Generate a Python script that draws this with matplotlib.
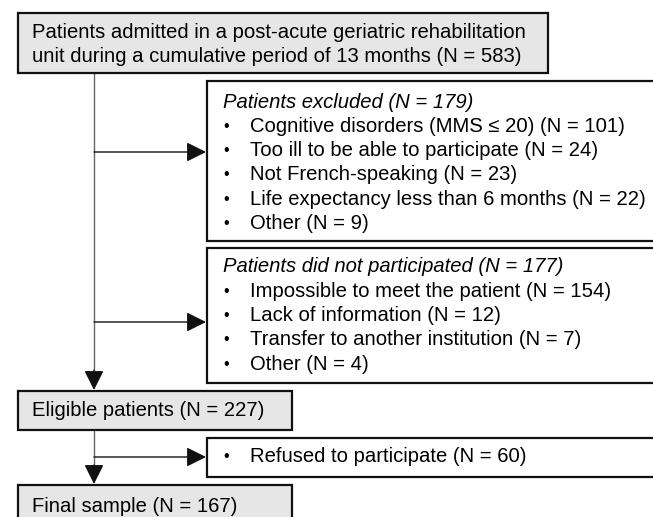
import matplotlib
matplotlib.use("Agg")
import matplotlib.pyplot as plt
from matplotlib.patches import Rectangle, FancyArrowPatch

plt.rcParams['font.family'] = ['Liberation Sans', 'DejaVu Sans']

top_lines = ["Patients admitted in a post-acute geriatric rehabilitation",
             "unit during a cumulative period of 13 months (N = 583)"]
excluded_title = "Patients excluded (N = 179)"
excluded_items = ["Cognitive disorders (MMS \u2264 20) (N = 101)",
                  "Too ill to be able to participate (N = 24)",
                  "Not French-speaking (N = 23)",
                  "Life expectancy less than 6 months (N = 22)",
                  "Other (N = 9)"]
notpart_title = "Patients did not participated (N = 177)"
notpart_items = ["Impossible to meet the patient (N = 154)",
                 "Lack of information (N = 12)",
                 "Transfer to another institution (N = 7)",
                 "Other (N = 4)"]
eligible_text = "Eligible patients (N = 227)"
refused_items = ["Refused to participate (N = 60)"]
final_text = "Final sample (N = 167)"

W, H = 653, 517
fig = plt.figure(figsize=(W/100, H/100), dpi=100)
ax = fig.add_axes([0, 0, 1, 1])
ax.set_xlim(0, W)
ax.set_ylim(H, 0)
ax.axis('off')

FS = 14.6
fill = '#e6e6e6'

def box(x0, y0, x1, y1, filled):
    ax.add_patch(Rectangle((x0, y0), x1 - x0, y1 - y0,
                           facecolor=fill if filled else 'white',
                           edgecolor='#111111', linewidth=1.6, zorder=2,
                           clip_on=True))

def arrow(x0, y0, x1, y1):
    ax.add_patch(FancyArrowPatch((x0, y0), (x1, y1),
                                 arrowstyle='-|>,head_length=1.0,head_width=0.5',
                                 mutation_scale=12, color='#111111',
                                 linewidth=1.0, shrinkA=0, shrinkB=0, zorder=3))

# boxes
box(18, 13, 548, 73, True)
box(207, 81, 680, 241, False)
box(207, 248, 680, 383, False)
box(18, 391, 292, 430, True)
box(207, 438, 680, 477, False)
box(18, 485, 292, 540, True)

# connector lines
vx = 94
ax.plot([vx, vx], [73, 380], color='#666666', lw=1.0, zorder=1)
arrow(vx, 370, vx, 390)
arrow(vx, 152, 206, 152)
arrow(vx, 322, 206, 322)
ax.plot([vx, vx], [430, 470], color='#666666', lw=1.0, zorder=1)
arrow(vx, 465, vx, 484)
arrow(vx, 457, 206, 457)

# texts
ax.text(32, 32, top_lines[0], fontsize=FS, va='center', ha='left', zorder=4)
ax.text(32, 56, top_lines[1], fontsize=FS, va='center', ha='left', zorder=4)

def listing(title, items, y0):
    y = y0
    if title:
        ax.text(223, y, title, fontsize=FS, style='italic', va='center', ha='left', zorder=4)
        y += 24.3
    for it in items:
        ax.text(226, y, "\u2022", fontsize=FS * 0.8, va='center', ha='center', zorder=4)
        ax.text(250, y, it, fontsize=FS, va='center', ha='left', zorder=4)
        y += 24.3

listing(excluded_title, excluded_items, 102)
listing(notpart_title, notpart_items, 267)
listing(None, refused_items, 457)

ax.text(32, 411, eligible_text, fontsize=FS, va='center', ha='left', zorder=4)
ax.text(32, 506, final_text, fontsize=FS, va='center', ha='left', zorder=4)

fig.savefig('out.png', dpi=100)
